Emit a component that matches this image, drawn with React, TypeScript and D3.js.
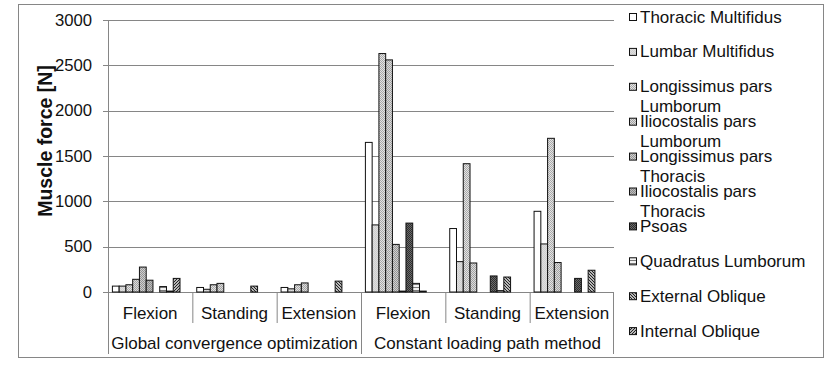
import React from 'react';
import * as d3 from 'd3';

// categories
const methods = ['Global convergence optimization', 'Constant loading path method'];
const conditions = ['Flexion', 'Standing', 'Extension'];

// series (order: GCO flexion, standing, extension, CLP flexion, standing, extension)
const seriesNames = [
  'Thoracic Multifidus',
  'Lumbar Multifidus',
  'Longissimus pars Lumborum',
  'Iliocostalis pars Lumborum',
  'Longissimus pars Thoracis',
  'Iliocostalis pars Thoracis',
  'Psoas',
  'Quadratus Lumborum',
  'External Oblique',
  'Internal Oblique',
];
const thoracicMultifidus = [65, 50, 50, 1650, 700, 890];
const lumbarMultifidus = [65, 30, 35, 740, 335, 530];
const longissimusLumborum = [80, 80, 80, 2630, 1415, 1695];
const iliocostalisLumborum = [140, 95, 100, 2560, 320, 325];
const longissimusThoracis = [275, 0, 0, 525, 0, 0];
const iliocostalisThoracis = [130, 0, 0, 10, 0, 0];
const psoas = [0, 0, 0, 760, 177, 150];
const quadratusLumborum = [60, 0, 0, 95, 15, 0];
const externalOblique = [10, 65, 120, 10, 165, 240];
const internalOblique = [150, 0, 0, 0, 0, 0];

const seriesValues = [
  thoracicMultifidus, lumbarMultifidus, longissimusLumborum, iliocostalisLumborum,
  longissimusThoracis, iliocostalisThoracis, psoas, quadratusLumborum,
  externalOblique, internalOblique,
];

const yTicks = [0, 500, 1000, 1500, 2000, 2500, 3000];

const FONT = '"Liberation Sans", Arial, sans-serif';
const AXIS = '#868686';

function wrap(name: string) {
  if (name.length <= 20) return [name];
  const i = name.lastIndexOf(' ');
  return [name.slice(0, i), name.slice(i + 1)];
}

function Patterns() {
  const dots = (id: string, bg: string, fg: string) => (
    <pattern id={id} width={2} height={2} patternUnits="userSpaceOnUse">
      <rect width={2} height={2} fill={bg} />
      <rect width={1} height={1} fill={fg} />
      <rect x={1} y={1} width={1} height={1} fill={fg} />
    </pattern>
  );
  return (
    <defs>
      {dots('p1', '#dedede', '#cfcfcf')}
      {dots('p2', '#e4e4e4', '#a9a9a9')}
      {dots('p3', '#dcdcdc', '#a2a2a2')}
      {dots('p4', '#cfcfcf', '#959595')}
      {dots('p5', '#bdbdbd', '#8a8a8a')}
      {dots('p6', '#6a6a6a', '#2e2e2e')}
      <pattern id="p7" width={3} height={3} patternUnits="userSpaceOnUse">
        <rect width={3} height={3} fill="#f2f2f2" />
        <rect y={2} width={3} height={1} fill="#7a7a7a" />
      </pattern>
      <pattern id="p8" width={3} height={3} patternUnits="userSpaceOnUse">
        <rect width={3} height={3} fill="#ffffff" />
        <path d="M-1,-1 L4,4 M-1,2 L1,4 M2,-1 L4,1" stroke="#1a1a1a" strokeWidth={1.2} />
      </pattern>
      <pattern id="p9" width={3} height={3} patternUnits="userSpaceOnUse">
        <rect width={3} height={3} fill="#ffffff" />
        <path d="M-1,4 L4,-1 M-1,1 L1,-1 M2,4 L4,2" stroke="#1a1a1a" strokeWidth={1.2} />
      </pattern>
    </defs>
  );
}

const fills = ['#ffffff', 'url(#p1)', 'url(#p2)', 'url(#p3)', 'url(#p4)', 'url(#p5)',
  'url(#p6)', 'url(#p7)', 'url(#p8)', 'url(#p9)'];

export default function App() {
  const width = 838, height = 369;
  const left = 108, right = 614, top = 20, bottom = 292;

  const categories = d3.range(methods.length * conditions.length);
  const x0 = d3.scaleBand<number>().domain(categories).range([left, right]);
  const xm = d3.scaleBand<string>().domain(methods).range([left, right]);
  const x1 = d3.scaleBand<string>().domain(seriesNames).range([4.4, 4.4 + 67.6]);
  const y = d3.scaleLinear().domain([0, 3000]).range([bottom, top]);

  return (
    <svg width={width} height={height}
      style={{ position: 'absolute', left: 0, top: 0, fontFamily: FONT }}>
      <Patterns />
      <rect x={18.5} y={4.5} width={805} height={353} fill="#fff" stroke={AXIS} />

      {/* gridlines and y ticks */}
      {yTicks.map(t => (
        <g key={t}>
          <line x1={left} x2={right} y1={Math.round(y(t)) + 0.5} y2={Math.round(y(t)) + 0.5}
            stroke={AXIS} strokeWidth={t === 0 ? 1.2 : 1} />
          <line x1={left - 5} x2={left} y1={Math.round(y(t)) + 0.5} y2={Math.round(y(t)) + 0.5}
            stroke={AXIS} />
          <text x={92} y={y(t)} textAnchor="end" dominantBaseline="central"
            fontSize={16.7} fill="#111">{t}</text>
        </g>
      ))}
      <line x1={left + 0.5} x2={left + 0.5} y1={top} y2={bottom} stroke={AXIS} />

      {/* bars */}
      {seriesValues.map((vals, si) => (
        <g key={si} fill={fills[si]} stroke="#111" strokeWidth={1}>
          {vals.map((v, ci) => v > 0 && (
            <rect key={ci}
              x={x0(ci)! + x1(seriesNames[si])!}
              y={y(v)}
              width={x1.bandwidth()}
              height={Math.max(0.8, y(0) - y(v))} />
          ))}
        </g>
      ))}

      {/* category axis, level 1 */}
      {categories.map(ci => (
        <g key={ci}>
          <line x1={x0(ci)! + 0.5} x2={x0(ci)! + 0.5} y1={bottom} y2={323} stroke={AXIS} />
          <text x={x0(ci)! + x0.bandwidth() / 2} y={313} textAnchor="middle"
            dominantBaseline="central" fontSize={17} fill="#111">
            {conditions[ci % conditions.length]}
          </text>
        </g>
      ))}

      {/* category axis, level 2 */}
      {methods.map(m => (
        <g key={m}>
          <line x1={xm(m)! + 0.5} x2={xm(m)! + 0.5} y1={bottom} y2={354} stroke={AXIS} />
          <text x={xm(m)! + xm.bandwidth() / 2} y={343} textAnchor="middle"
            dominantBaseline="central" fontSize={17} fill="#111">{m}</text>
        </g>
      ))}
      <line x1={right - 0.5} x2={right - 0.5} y1={bottom} y2={354} stroke={AXIS} />

      {/* y axis title */}
      <text transform={`translate(45,141) rotate(-90)`} textAnchor="middle"
        dominantBaseline="central" fontSize={19.5} fontWeight="bold" fill="#111">
        Muscle force [N]
      </text>

      {/* legend */}
      {seriesNames.map((name, i) => {
        const ly = 17 + i * 34.9;
        return (
          <g key={name}>
            <rect x={629.5} y={ly - 3.5} width={7} height={7} fill={fills[i]} stroke="#111" />
            {wrap(name).map((line, li) => (
              <text key={li} x={640} y={ly + li * 19.5} dominantBaseline="central"
                fontSize={17} fill="#111">{line}</text>
            ))}
          </g>
        );
      })}
    </svg>
  );
}
